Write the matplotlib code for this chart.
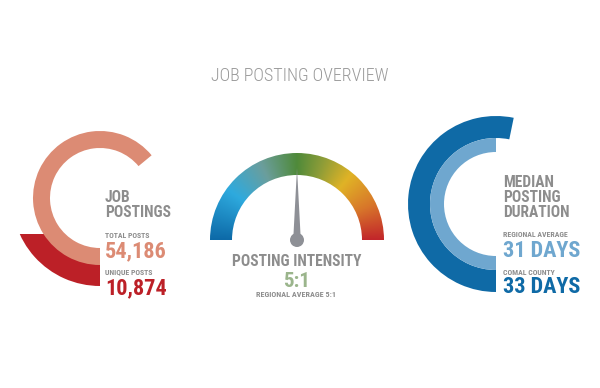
import numpy as np
import matplotlib
matplotlib.use("Agg")
import matplotlib.pyplot as plt
from matplotlib.patches import Wedge, Rectangle, Circle, Polygon
from matplotlib.colors import LinearSegmentedColormap

# ---------------- data ----------------
title = "JOB POSTING OVERVIEW"
postings_title = ["JOB", "POSTINGS"]
postings_labels = ["TOTAL POSTS", "UNIQUE POSTS"]
postings_values = ["54,186", "10,874"]
postings_arc_frac = [0.64, 0.183]          # share of a full circle drawn by each ring
intensity_label = "POSTING INTENSITY"
intensity_value = "5:1"
intensity_note = "REGIONAL AVERAGE 5:1"
intensity_needle = [0.5]                   # needle position on gauge (0=left, 1=right)
duration_title = ["MEDIAN", "POSTING", "DURATION"]
duration_labels = ["REGIONAL AVERAGE", "COMAL COUNTY"]
duration_days = [31, 33]
duration_values = ["31 DAYS", "33 DAYS"]

# ---------------- fonts ----------------
plt.rcParams["font.family"] = ["Roboto Condensed", "Liberation Sans Narrow", "DejaVu Sans"]

W, H = 600, 388
fig = plt.figure(figsize=(6, 3.88), dpi=100)
ax = fig.add_axes([0, 0, 1, 1])
ax.set_xlim(0, W)
ax.set_ylim(0, H)
ax.set_aspect("equal")
ax.axis("off")

def Y(y):
    return H - y

GREY = "#8d8d8d"
SALMON = "#dc8b74"
DRED = "#bc2027"
DBLUE = "#0f6aa6"
LBLUE = "#6fa7cf"
BIG = 16
MID = 11.2
SMALL = 5.6

# ---------------- left: job postings ----------------
cx, cy = 100, Y(198)
a_tot = postings_arc_frac[0] * 360
a_uni = postings_arc_frac[1] * 360
th = np.radians(270 - a_uni)
y_cut = cy + 88 * np.sin(th)
w = Wedge((cx, cy), 88, 270 - a_uni - 30, 270, width=22, color=DRED, lw=0)
ax.add_patch(w)
w.set_clip_path(Rectangle((0, 0), W, y_cut, transform=ax.transData))
ax.add_patch(Wedge((cx, cy), 67, 270 - a_tot, 270, width=17, color=SALMON, lw=0))

tx = 105
ax.text(tx, Y(202), postings_title[0], fontsize=MID, fontweight="bold", color=GREY)
ax.text(tx, Y(217), postings_title[1], fontsize=MID, fontweight="bold", color=GREY)
ax.text(tx, Y(237.5), postings_labels[0], fontsize=SMALL, fontweight="bold", color=GREY)
ax.text(tx, Y(257), postings_values[0], fontsize=BIG, fontweight="bold", color=SALMON)
ax.text(tx, Y(274.5), postings_labels[1], fontsize=SMALL, fontweight="bold", color=GREY)
ax.text(tx, Y(294), postings_values[1], fontsize=BIG, fontweight="bold", color=DRED)

# ---------------- middle: gauge ----------------
gx, gy = 297, Y(240)
R_out, R_w = 87, 22
cmap = LinearSegmentedColormap.from_list("g", [
    (0.0, "#0d6aa8"), (0.2, "#2eaade"), (0.36, "#6b9e9c"), (0.5, "#4f8a3a"),
    (0.6, "#8c9c38"), (0.72, "#e0b326"), (0.86, "#d8772a"), (1.0, "#c2262b")])
xs = np.linspace(gx - R_out, gx + R_out, 400)
ys = np.linspace(gy, gy + R_out, 200)
XX, YY = np.meshgrid(xs, ys)
frac = 1 - np.arctan2(YY - gy, XX - gx) / np.pi
img = ax.imshow(frac, cmap=cmap, vmin=0, vmax=1, origin="lower",
                extent=(gx - R_out, gx + R_out, gy, gy + R_out),
                interpolation="bilinear", zorder=1)
gauge = Wedge((gx, gy), R_out, 0, 180, width=R_w, facecolor="none", lw=0)
ax.add_patch(gauge)
img.set_clip_path(gauge)

ang = np.radians(180 - 180 * intensity_needle[0])
L = 72
tipx, tipy = gx + L * np.cos(ang), gy + L * np.sin(ang)
px, py = -np.sin(ang) * 3.8, np.cos(ang) * 3.8
ax.add_patch(Polygon([(gx + px, gy + py), (tipx, tipy), (gx - px, gy - py)],
                     closed=True, color="#8e9096", lw=0, zorder=3))
ax.add_patch(Circle((gx, gy), 7, color="#8e9096", lw=0, zorder=3))
ax.text(gx, Y(266), intensity_label, fontsize=MID, fontweight="bold", color=GREY, ha="center")
ax.text(gx, Y(287), intensity_value, fontsize=15, fontweight="bold", color="#9bb58c", ha="center")
ax.text(gx - 1, Y(297), intensity_note, fontsize=5.9, fontweight="bold", color=GREY, ha="center")

# ---------------- right: duration ----------------
rx, ry = 496, Y(204)
ref = duration_days[0]
a_reg = 180 * duration_days[0] / ref
a_cty = 180 * duration_days[1] / ref
ax.add_patch(Wedge((rx, ry), 88, 270 - a_cty, 270, width=22, color=DBLUE, lw=0))
ax.add_patch(Wedge((rx, ry), 66, 270 - a_reg, 270, width=14, color=LBLUE, lw=0))
tx = 503
ax.text(tx, Y(187), duration_title[0], fontsize=MID, fontweight="bold", color=GREY)
ax.text(tx, Y(202), duration_title[1], fontsize=MID, fontweight="bold", color=GREY)
ax.text(tx, Y(217), duration_title[2], fontsize=MID, fontweight="bold", color=GREY)
ax.text(tx, Y(237), duration_labels[0], fontsize=SMALL, fontweight="bold", color=GREY)
ax.text(tx, Y(257), duration_values[0], fontsize=BIG, fontweight="bold", color=LBLUE)
ax.text(tx, Y(275), duration_labels[1], fontsize=SMALL, fontweight="bold", color=GREY)
ax.text(tx, Y(293), duration_values[1], fontsize=BIG, fontweight="bold", color=DBLUE)

# ---------------- title ----------------
ax.text(300, Y(81), title, fontsize=13, fontweight="light", color="#9a9a9a", ha="center")

fig.savefig("out.png", dpi=100)
